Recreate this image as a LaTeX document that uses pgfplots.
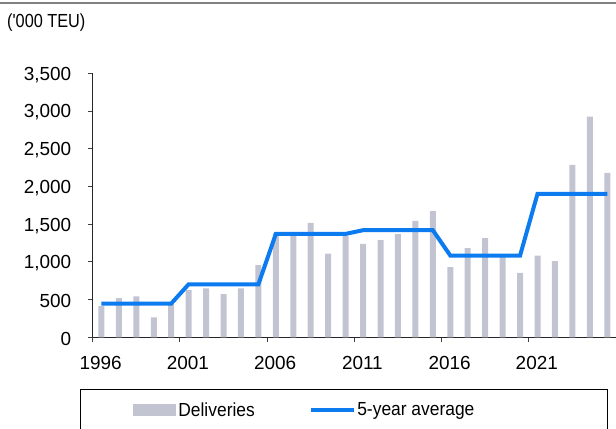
\documentclass[border=0pt]{standalone}
\usepackage{pgfplots}
\pgfplotsset{compat=1.18}
\usepackage{fontspec}
\setmainfont{Liberation Sans}
\newfontfamily\narrowfont[FakeStretch=0.86]{Liberation Sans}
\newfontfamily\legfont[FakeStretch=0.92]{Liberation Sans}
\definecolor{barc}{RGB}{194,197,209}
\definecolor{linec}{RGB}{12,123,240}
\definecolor{topline}{RGB}{128,128,128}

\begin{document}
\begin{tikzpicture}[x=1bp,y=1bp]
\useasboundingbox (0,0) rectangle (616,428);
\draw[line width=2bp, color=topline] (0,425) -- (616,425);
\node[anchor=west, inner sep=0] at (7,405) {\narrowfont\fontsize{19}{22}\selectfont ('000 TEU)};
\begin{axis}[
  at={(92.7bp,90.7bp)}, anchor=south west,
  scale only axis, width=523.3bp, height=264bp,
  xmin=1996, xmax=2026, ymin=0, ymax=3500,
  axis x line*=bottom, axis y line*=left,
  axis line style={-, line width=0.9bp, black!85},
  tick align=outside, major tick length=5bp,
  tick style={line width=0.9bp, black!75},
  xtick={1996,2001,...,2021}, ytick={0,500,...,3500},
  x tick label style={/pgf/number format/1000 sep={}, xshift=8bp, yshift=-10bp},
  y tick label style={/pgf/number format/1000 sep={,}, xshift=-13bp, yshift=-1.5bp},
  /pgf/number format/assume math mode=true,
  ticklabel style={font=\fontsize{19}{22}\selectfont},
  legend style={at={(-0.0243,-0.1958)}, anchor=north west,
    draw=black, line width=0.8bp, inner xsep=53bp, inner ysep=11bp,
    font=\legfont\fontsize{19}{22}\selectfont,
    /tikz/every even column/.append style={column sep=52bp}},
  legend columns=2,
]
\addplot[ybar, bar width=6bp, fill=barc, draw=none,
  legend image code/.code={\fill[barc] (0bp,-6bp) rectangle (43bp,6bp);}]
  coordinates {
  (1996.5,415) (1997.5,518) (1998.5,544) (1999.5,265) (2000.5,450)
  (2001.5,624) (2002.5,650) (2003.5,571) (2004.5,650) (2005.5,956)
  (2006.5,1380) (2007.5,1345) (2008.5,1517) (2009.5,1111) (2010.5,1345)
  (2011.5,1239) (2012.5,1287) (2013.5,1367) (2014.5,1544) (2015.5,1672)
  (2016.5,929) (2017.5,1181) (2018.5,1314) (2019.5,1066) (2020.5,854)
  (2021.5,1084) (2022.5,1009) (2023.5,2287) (2024.5,2924) (2025.5,2181)
  };
\addlegendentry{Deliveries}
\addplot[linec, line width=4bp,
  legend image code/.code={\draw[linec, line width=3.5bp] (0bp,0bp) -- (43bp,0bp);}]
  coordinates {
  (1996.5,447) (1997.5,447) (1998.5,447) (1999.5,447) (2000.5,447)
  (2001.5,703) (2002.5,703) (2003.5,703) (2004.5,703) (2005.5,703)
  (2006.5,1371) (2007.5,1371) (2008.5,1371) (2009.5,1371) (2010.5,1371)
  (2011.5,1420) (2012.5,1420) (2013.5,1420) (2014.5,1420) (2015.5,1420)
  (2016.5,1084) (2017.5,1084) (2018.5,1084) (2019.5,1084) (2020.5,1084)
  (2021.5,1902) (2022.5,1902) (2023.5,1902) (2024.5,1902) (2025.5,1902)
  };
\addlegendentry{\makebox[195bp][l]{5-year average}}
\end{axis}
\end{tikzpicture}
\end{document}
